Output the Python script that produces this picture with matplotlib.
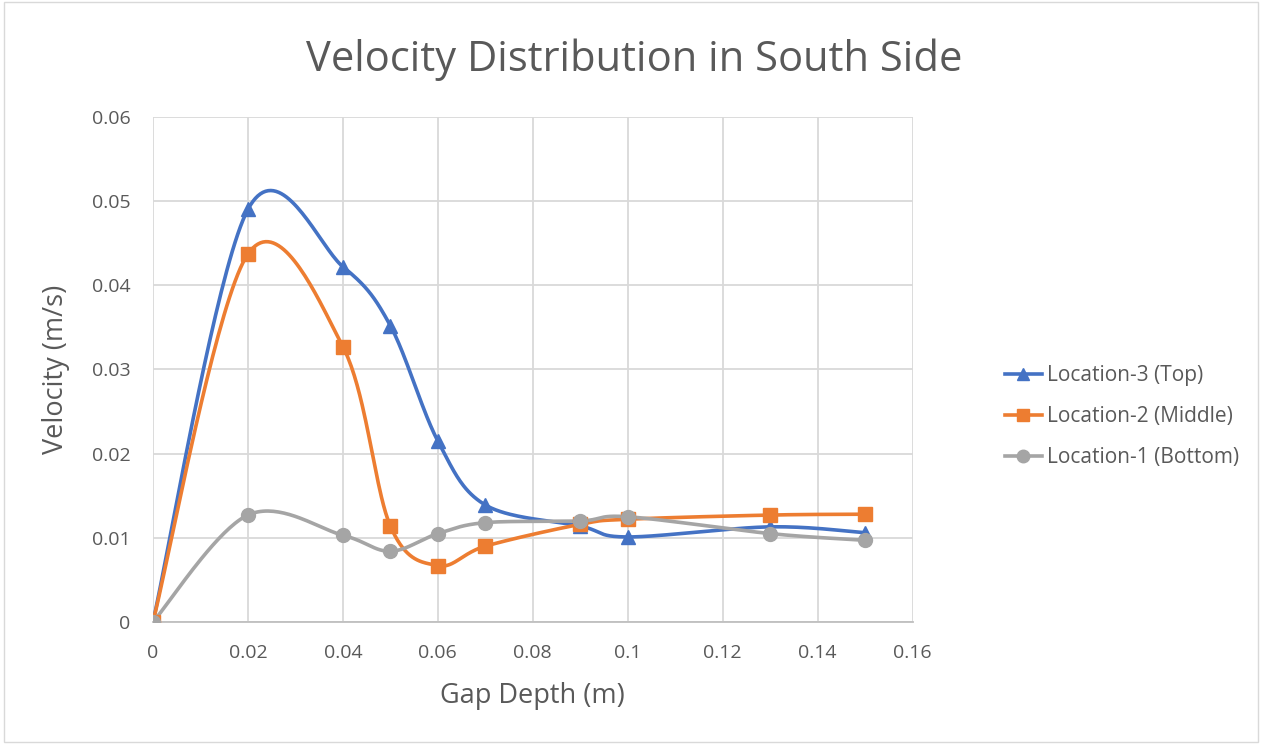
import numpy as np
import matplotlib
matplotlib.use('agg')
import matplotlib.pyplot as plt
from matplotlib.patches import Rectangle

# gap depth (m)
depth = [0, 0.02, 0.04, 0.05, 0.06, 0.07, 0.09, 0.1, 0.13, 0.15]
# velocity (m/s) at three locations
top = [0, 0.0490, 0.0422, 0.0352, 0.0215, 0.0139, 0.0114, 0.0101, 0.0113, 0.0106]
middle = [0, 0.0437, 0.0327, 0.0114, 0.0067, 0.0090, 0.0116, 0.0122, 0.0127, 0.0128]
bottom = [0, 0.0127, 0.0103, 0.0084, 0.0105, 0.0118, 0.0120, 0.0125, 0.0105, 0.0097]

names = ['Location-3 (Top)', 'Location-2 (Middle)', 'Location-1 (Bottom)']
colors = ['#4472C4', '#ED7D31', '#A5A5A5']
markers = ['^', 's', 'o']
xlim = (0, 0.16)
ylim = (0, 0.06)

plt.rcParams['font.family'] = ['Open Sans', 'DejaVu Sans']
txt = '#595959'


def smooth(xs, ys, n=40):
    # excel-like smoothed line: cubic bezier through points, done in axis-fraction space
    sx = (xlim[1] - xlim[0]) / 0.6
    sy = (ylim[1] - ylim[0]) / 0.45
    p = np.column_stack([np.array(xs) / sx, np.array(ys) / sy])
    out = [p[0]]
    t = np.linspace(0, 1, n)[1:, None]
    for i in range(len(p) - 1):
        p0 = p[max(i - 1, 0)]
        p3 = p[min(i + 2, len(p) - 1)]
        c1 = p[i] + (p[i + 1] - p0) / 6
        c2 = p[i + 1] - (p3 - p[i]) / 6
        seg = ((1 - t) ** 3) * p[i] + 3 * ((1 - t) ** 2) * t * c1 + 3 * (1 - t) * t ** 2 * c2 + t ** 3 * p[i + 1]
        out.extend(seg)
    out = np.array(out)
    return out[:, 0] * sx, out[:, 1] * sy


fig = plt.figure(figsize=(12.64, 7.44), dpi=100)
ax = fig.add_axes([0.121, 0.164, 0.601, 0.679])

for ys, name, c, m in zip([top, middle, bottom], names, colors, markers):
    sx, sy = smooth(depth, ys)
    ax.plot(sx, sy, color=c, lw=2.6, zorder=3)
    ax.plot(depth, ys, ls='none', marker=m, color=c, markersize=10, zorder=4)
    ax.plot([], [], color=c, lw=2.6, marker=m, markersize=9, label=name)

ax.set_xlim(*xlim)
ax.set_ylim(*ylim)
ax.set_xticks(np.arange(0, 0.161, 0.02))
ax.set_yticks(np.arange(0, 0.061, 0.01))
ax.set_xticklabels(['0', '0.02', '0.04', '0.06', '0.08', '0.1', '0.12', '0.14', '0.16'])
ax.set_yticklabels(['0', '0.01', '0.02', '0.03', '0.04', '0.05', '0.06'])
ax.grid(True, color='#d9d9d9', lw=1.3)
ax.set_axisbelow(True)
for s in ['top', 'right', 'left']:
    ax.spines[s].set_visible(False)
ax.spines['bottom'].set_color('#bfbfbf')
ax.spines['bottom'].set_linewidth(1.3)
ax.tick_params(length=0, labelsize=14, colors=txt)
ax.tick_params(axis='y', pad=16)
ax.tick_params(axis='x', pad=16)

ax.set_xlabel('Gap Depth (m)', fontsize=19.5, color=txt, labelpad=14)
ax.set_ylabel('Velocity (m/s)', fontsize=19.5, color=txt, labelpad=16)
fig.text(0.502, 0.92, 'Velocity Distribution in South Side', fontsize=30, color=txt,
         ha='center', va='center')

leg = fig.legend(loc='center left', bbox_to_anchor=(0.78, 0.44), frameon=False,
                 fontsize=15, labelspacing=0.95, handlelength=1.8, handletextpad=0.25)
for t in leg.get_texts():
    t.set_color(txt)

fig.patches.append(Rectangle((0.003, 0.003), 0.992, 0.994, transform=fig.transFigure,
                             fill=False, edgecolor='#d9d9d9', lw=1))

fig.savefig('out.png', dpi=100, facecolor='white')
